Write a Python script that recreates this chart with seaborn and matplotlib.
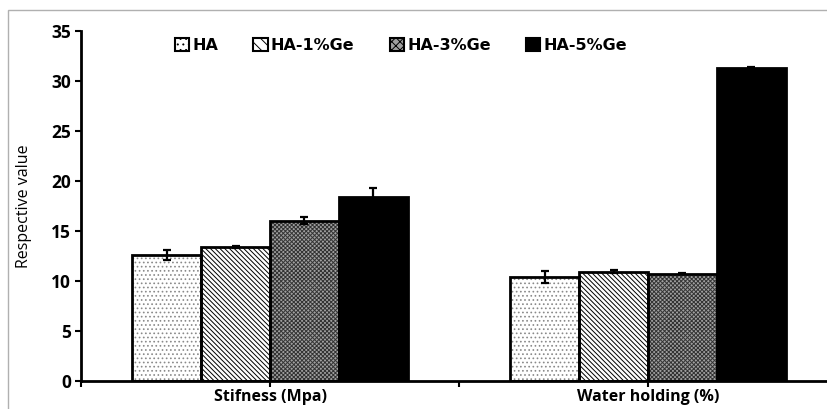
import matplotlib
matplotlib.use("Agg")
import matplotlib.pyplot as plt
from matplotlib.patches import Patch, Rectangle
import seaborn as sns
import pandas as pd
import numpy as np

properties = ["Stifness (Mpa)", "Water holding (%)"]
groups = ["HA", "HA-1%Ge", "HA-3%Ge", "HA-5%Ge"]
stiffness = [12.6, 13.4, 16.0, 18.4]
stiffness_err = [0.5, 0.12, 0.35, 0.85]
water = [10.4, 10.9, 10.7, 31.3]
water_err = [0.6, 0.15, 0.05, 0.1]
y_ticks = [0, 5, 10, 15, 20, 25, 30, 35]

rows = []
for g, v, e in zip(groups, stiffness, stiffness_err):
    rows.append({"property": properties[0], "group": g, "value": v, "err": e})
for g, v, e in zip(groups, water, water_err):
    rows.append({"property": properties[1], "group": g, "value": v, "err": e})
df = pd.DataFrame(rows)

sns.set_theme(style="white")
plt.rcParams["hatch.linewidth"] = 0.7
plt.rcParams["text.color"] = "black"
plt.rcParams["axes.labelcolor"] = "black"
plt.rcParams["xtick.color"] = "black"
plt.rcParams["ytick.color"] = "black"

fig = plt.figure(figsize=(8.27, 4.09), dpi=100)
ax = fig.add_axes([81 / 827, 1 - 381 / 409, 756 / 827, (381 - 30.7) / 409])

faces = ["white", "white", "#a0a0a0", "black"]
sns.barplot(data=df, x="property", y="value", hue="group", order=properties,
            hue_order=groups, palette=faces, width=0.73, errorbar=None,
            edgecolor="black", linewidth=2, saturation=1, legend=False, ax=ax)

hatches = ["....", "\\\\\\\\\\\\\\", "xxxxxxxx", None]
hatch_edge = ["#8a8a8a", "black", "#333333", "black"]
for cont, h, he, fc in zip(ax.containers, hatches, hatch_edge, faces):
    for p in cont.patches:
        if h:
            p.set_hatch(h)
            p.set_edgecolor(he)
            p.set_linewidth(0)
            ax.add_patch(Rectangle(p.get_xy(), p.get_width(), p.get_height(),
                                   facecolor="none", edgecolor="black",
                                   linewidth=2, zorder=p.get_zorder() + 0.1))

# error bars at bar centres
for cont, g in zip(ax.containers, groups):
    sub = df[df["group"] == g].set_index("property").loc[properties]
    xs = [p.get_x() + p.get_width() / 2 for p in cont.patches]
    ax.errorbar(xs, sub["value"].values, yerr=sub["err"].values, fmt="none",
                ecolor="black", elinewidth=1.6, capsize=3, capthick=1.6, zorder=5)

ax.set_xlim(-0.5, 1.5)
ax.set_ylim(0, 35)
ax.set_yticks(y_ticks)
ax.set_yticklabels([str(t) for t in y_ticks], fontsize=12.5, fontweight="bold",
                   family="Open Sans")
ax.set_xticks([0, 1])
ax.set_xticklabels(properties, fontsize=11.5, fontweight="bold", family="Open Sans")
ax.set_xticks([-0.5, 0.5], minor=True)
ax.tick_params(axis="both", which="both", direction="out", length=4, width=1.5,
               color="black", left=True, bottom=True, pad=3)
ax.tick_params(axis="x", which="major", pad=2)
ax.set_xlabel("")
ax.set_ylabel("Respective value", fontsize=11.5, family="Open Sans", labelpad=14)

for s in ["top", "right"]:
    ax.spines[s].set_visible(False)
for s in ["left", "bottom"]:
    ax.spines[s].set_color("black")
    ax.spines[s].set_linewidth(2)

handles = [
    Patch(facecolor="white", edgecolor="black", hatch="...", linewidth=1.5),
    Patch(facecolor="white", edgecolor="black", hatch="\\\\\\", linewidth=1.5),
    Patch(facecolor="#a0a0a0", edgecolor="black", hatch="xxxx", linewidth=1.5),
    Patch(facecolor="black", edgecolor="black", linewidth=1.5),
]
leg = ax.legend(handles, groups, loc="upper left", bbox_to_anchor=(0.105, 1.02),
                ncol=4, frameon=False, handlelength=0.9, handleheight=0.9,
                handletextpad=0.2, columnspacing=2.2,
                prop={"family": "DejaVu Sans", "weight": "bold", "size": 11.5})

fig.add_artist(Rectangle((8 / 827, -0.05), 1.2, 1 - 10 / 409 + 0.05,
                         transform=fig.transFigure, facecolor="none",
                         edgecolor="#b0b0b0", linewidth=1, clip_on=False))

fig.savefig("out.png", dpi=100)
